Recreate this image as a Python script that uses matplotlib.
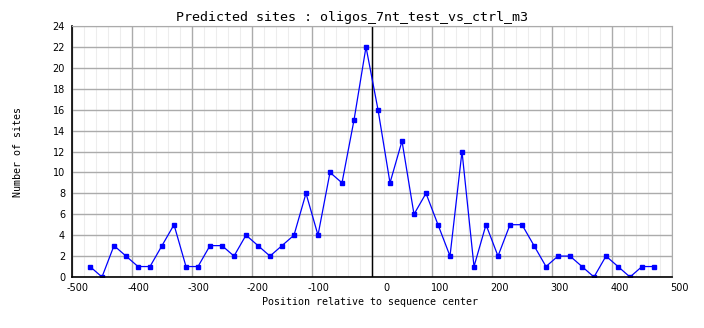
import matplotlib
matplotlib.use("Agg")
import matplotlib.pyplot as plt
from matplotlib.ticker import MultipleLocator, NullFormatter
from matplotlib.transforms import ScaledTranslation
import numpy as np

# bin centres (bp from sequence center) and site counts
positions = [-470, -450, -430, -410, -390, -370, -350, -330, -310, -290,
             -270, -250, -230, -210, -190, -170, -150, -130, -110, -90,
             -70, -50, -30, -10, 10, 30, 50, 70, 90, 110,
             130, 150, 170, 190, 210, 230, 250, 270, 290, 310,
             330, 350, 370, 390, 410, 430, 450, 470]
sites = [1, 0, 3, 2, 1, 1, 3, 5, 1, 1,
         3, 3, 2, 4, 3, 2, 3, 4, 8, 4,
         10, 9, 15, 22, 16, 9, 13, 6, 8, 5,
         2, 12, 1, 5, 2, 5, 5, 3, 1, 2,
         2, 1, 0, 2, 1, 0, 1, 1]
xticks = [-500, -400, -300, -200, -100, 0, 100, 200, 300, 400, 500]

title = "Predicted sites : oligos_7nt_test_vs_ctrl_m3"
xlab = "Position relative to sequence center"
ylab = "Number of sites"

W, H = 704, 328
fig = plt.figure(figsize=(W / 100, H / 100), dpi=100)
ax = fig.add_axes([72 / W, (H - 277) / H, 600 / W, 251 / H])

ax.set_xlim(-500, 500)
ax.set_ylim(0, 24)
ax.set_xticks(xticks)
ax.xaxis.set_minor_locator(MultipleLocator(20))
ax.yaxis.set_major_locator(MultipleLocator(2))
ax.xaxis.set_major_formatter(NullFormatter())

ax.grid(which="minor", axis="x", color="#ededed", lw=0.8)
ax.grid(which="major", color="#ababab", lw=1.0)
ax.set_axisbelow(True)

for s in ("top", "right"):
    ax.spines[s].set_color("#ababab")
for s in ("left", "bottom"):
    ax.spines[s].set_color("black")
    ax.spines[s].set_linewidth(1.2)

ax.tick_params(which="both", length=0, labelsize=7, pad=5)

# x tick labels: right-aligned a little past each grid line
lab_tr = ax.get_xaxis_transform() + ScaledTranslation(17 / 100, -6 / 100, fig.dpi_scale_trans)
for xt in xticks:
    ax.text(xt, 0, str(xt), transform=lab_tr, ha="right", va="top", fontsize=7)

ax.axvline(0, color="black", lw=1.0)
ax.plot(positions, sites, color="#0000ff", lw=0.9, marker="s", ms=2.2,
        mec="#0000ff", mfc="#0000ff")

fig.text(352 / W, 1 - 18 / H, title, family="DejaVu Sans Mono",
         fontsize=9.6, ha="center", va="center")
fig.text(370 / W, 1 - 302 / H, xlab, family="DejaVu Sans Mono",
         fontsize=7.2, ha="center", va="center")
fig.text(18 / W, 1 - 152 / H, ylab, family="DejaVu Sans Mono",
         fontsize=7.2, ha="center", va="center", rotation=90)

fig.savefig("out.png", dpi=100)
